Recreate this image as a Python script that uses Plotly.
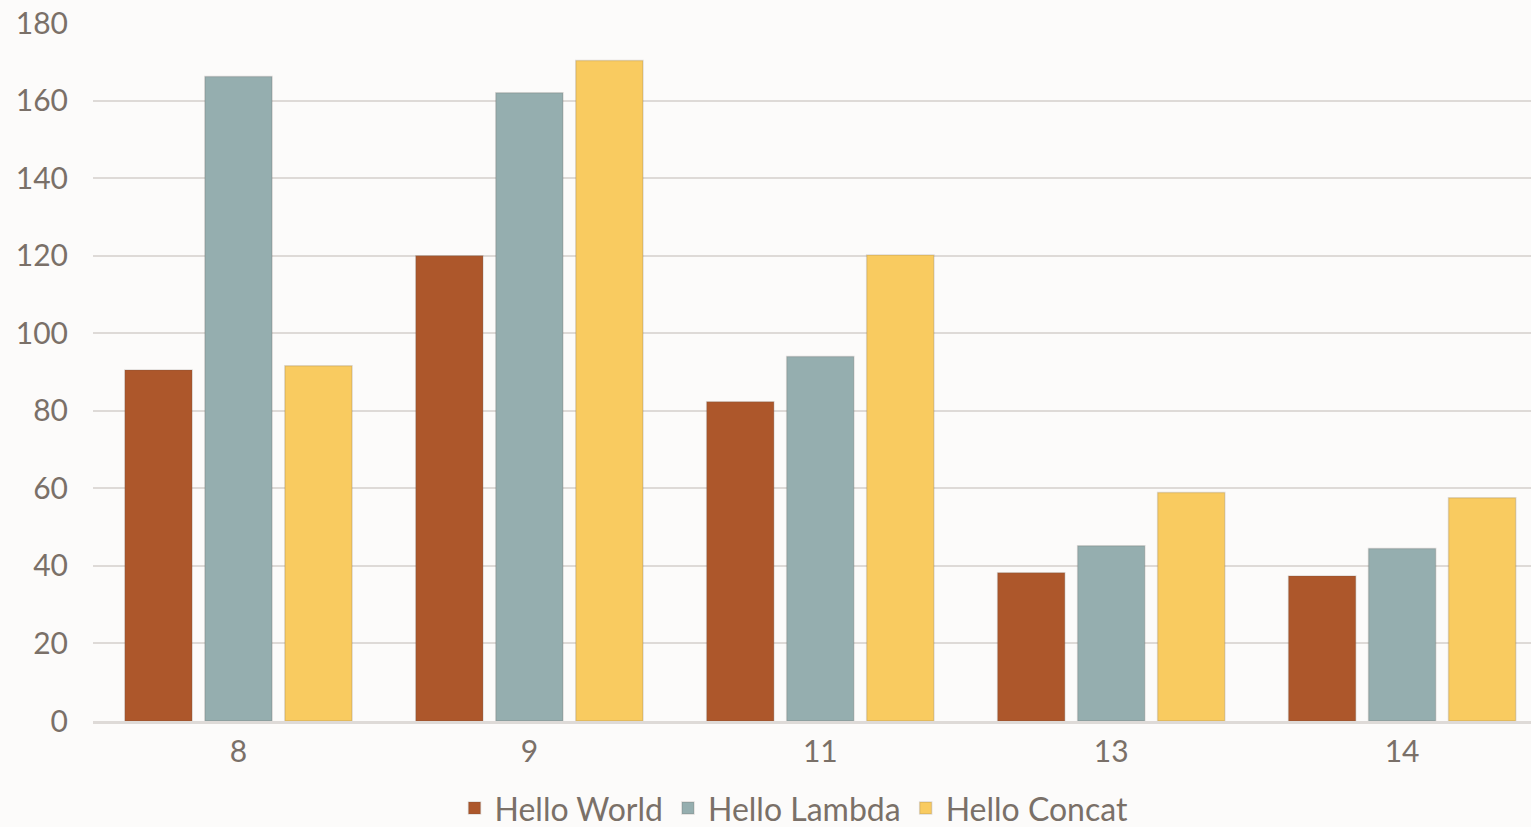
import plotly.graph_objects as go

categories = ["8", "9", "11", "13", "14"]
hello_world = [90.5, 120, 82.3, 38.2, 37.4]
hello_lambda = [166.2, 162, 94, 45.2, 44.5]
hello_concat = [91.6, 170.3, 120.2, 58.9, 57.6]

series = [
    ("Hello World", hello_world, "#AD572B"),
    ("Hello Lambda", hello_lambda, "#95AEAF"),
    ("Hello Concat", hello_concat, "#F9CB60"),
]

text_color = "#7A7068"
grid_color = "#DEDAD7"

fig = go.Figure()
for name, vals, color in series:
    fig.add_trace(go.Bar(
        x=categories, y=vals, name=name,
        marker=dict(color=color, line=dict(color="rgba(90,80,70,0.18)", width=1.5)),
    ))

fig.update_layout(
    width=1531, height=827,
    paper_bgcolor="#FCFBFA", plot_bgcolor="#FCFBFA",
    margin=dict(l=93, r=0, t=23, b=106, autoexpand=False),
    barmode="group", bargap=0.175, bargroupgap=0.16,
    font=dict(family="Lato, Open Sans, sans-serif", color=text_color, size=30),
    showlegend=True,
    legend=dict(orientation="h", x=0.4875, xanchor="center", y=-0.125, yanchor="middle",
                font=dict(size=32, color=text_color), itemwidth=30,
                bgcolor="rgba(0,0,0,0)"),
    xaxis=dict(type="category", range=[-0.5, 4.443], showgrid=False, showline=True,
               linecolor=grid_color, linewidth=3,
               ticks="", tickfont=dict(size=30, color=text_color), ticklabelstandoff=2),
    yaxis=dict(range=[0, 180], dtick=20, showgrid=True, gridcolor=grid_color, gridwidth=2,
               zeroline=False, showline=False, ticks="", tickfont=dict(size=30, color=text_color),
               ticklabelstandoff=24),
)

fig.write_html("out.html")
